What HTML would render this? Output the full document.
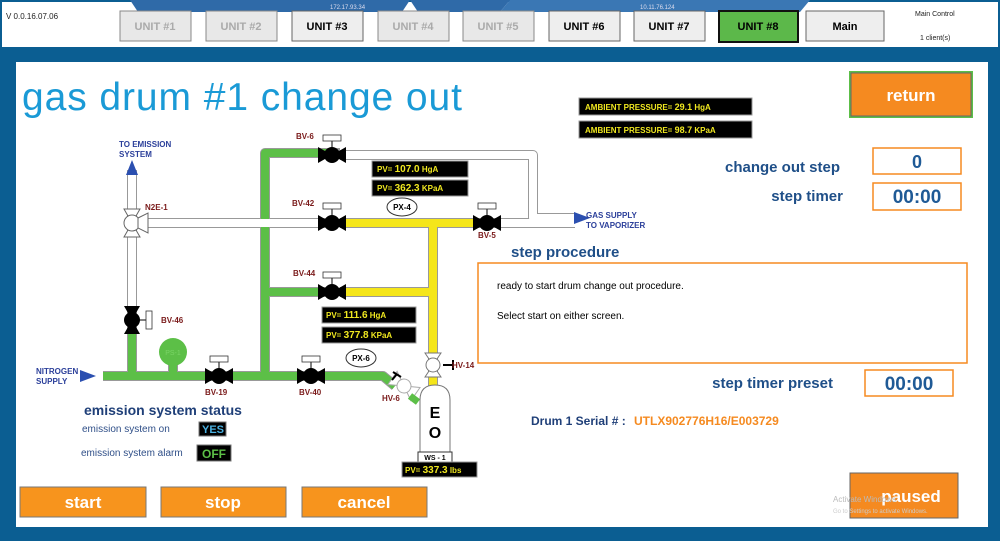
<!DOCTYPE html>
<html><head><meta charset="utf-8"><style>
html,body{margin:0;padding:0;width:1000px;height:541px;overflow:hidden;background:#0b5e92;font-family:"Liberation Sans",sans-serif}
</style></head><body>
<svg width="1000" height="541" xmlns="http://www.w3.org/2000/svg" font-family="Liberation Sans, sans-serif">
<rect x="0" y="0" width="1000" height="541" fill="#0b5e92"/>
<!-- top bar -->
<rect x="2" y="2" width="996" height="45" fill="#fff"/>
<path d="M130 0 H410 L402 12 H138 Z" fill="#2f6aa8"/>
<path d="M410 0 H510 L500 12 H418 Z" fill="#2f6aa8"/>
<path d="M510 0 H810 L800 12 H500 Z" fill="#3a77b4"/>
<text x="330" y="9" font-size="6" fill="#dde">172.17.93.34</text>
<text x="640" y="9" font-size="6" fill="#dde">10.11.76.124</text>
<text x="6" y="19" font-size="8" fill="#222">V 0.0.16.07.06</text>
<g font-size="11" font-weight="bold" text-anchor="middle">
<rect x="120" y="11" width="71" height="30" fill="#e8e8e8" stroke="#888"/><text x="155" y="30" fill="#aaa">UNIT #1</text>
<rect x="206" y="11" width="71" height="30" fill="#e8e8e8" stroke="#888"/><text x="241" y="30" fill="#aaa">UNIT #2</text>
<rect x="292" y="11" width="71" height="30" fill="#eee" stroke="#666"/><text x="327" y="30" fill="#000">UNIT #3</text>
<rect x="378" y="11" width="71" height="30" fill="#e8e8e8" stroke="#888"/><text x="413" y="30" fill="#aaa">UNIT #4</text>
<rect x="463" y="11" width="71" height="30" fill="#e8e8e8" stroke="#888"/><text x="498" y="30" fill="#aaa">UNIT #5</text>
<rect x="549" y="11" width="71" height="30" fill="#eee" stroke="#666"/><text x="584" y="30" fill="#000">UNIT #6</text>
<rect x="634" y="11" width="71" height="30" fill="#eee" stroke="#666"/><text x="669" y="30" fill="#000">UNIT #7</text>
<rect x="719" y="11" width="79" height="31" fill="#5cb84a" stroke="#111" stroke-width="2"/><text x="758" y="30" fill="#000">UNIT #8</text>
<rect x="806" y="11" width="78" height="30" fill="#eee" stroke="#666"/><text x="845" y="30" fill="#000">Main</text>
</g>
<text x="915" y="16" font-size="7" fill="#222">Main Control</text>
<text x="920" y="40" font-size="7" fill="#222">1  client(s)</text>
<!-- main panel -->
<rect x="16" y="62" width="972" height="465" fill="#fff"/>
<text x="22" y="110" font-size="39" fill="#1a9ad6" textLength="440" lengthAdjust="spacing">gas drum #1 change out</text>

<!-- pipes: outline -->
<g fill="none" stroke="#999" stroke-width="10" stroke-linejoin="round">
<path d="M103 376 H383 L395 386"/>
<path d="M132 376 V170"/>
<path d="M265 376 V153 H340"/>
<path d="M265 292 H330"/>
<path d="M340 155 H533 V218 H575"/>
<path d="M140 223 H330"/>
<path d="M340 223 H575"/>
<path d="M340 292 H433"/>
<path d="M433 223 V390"/>
<path d="M173 376 V360"/>
</g>
<g fill="none" stroke-width="8" stroke-linejoin="round">
<path d="M103 376 H383 L395 386" stroke="#5cbf47"/>
<path d="M132 376 V320" stroke="#5cbf47"/>
<path d="M132 320 V170" stroke="#fff"/>
<path d="M265 376 V153 H330" stroke="#5cbf47"/>
<path d="M265 292 H330" stroke="#5cbf47"/>
<path d="M340 155 H533 V218 H575" stroke="#fff"/>
<path d="M140 223 H330" stroke="#fff"/>
<path d="M340 223 H487" stroke="#f5e61a"/>
<path d="M487 223 H575" stroke="#fff"/>
<path d="M340 292 H433" stroke="#f5e61a"/>
<path d="M433 223 V360" stroke="#f5e61a"/>
<path d="M433 370 V390" stroke="#f5e61a"/>
<path d="M173 376 V360" stroke="#5cbf47"/>
</g>
<!-- arrows -->
<polygon points="80,370 96,376 80,382" fill="#2b4fb0"/>
<polygon points="126,175 132,160 138,175" fill="#2b4fb0"/>
<polygon points="574,212 590,218 574,224" fill="#2b4fb0"/>
<g font-size="8" font-weight="bold" fill="#2b3f9a">
<text x="36" y="374">NITROGEN</text><text x="36" y="384">SUPPLY</text>
<text x="119" y="147">TO EMISSION</text><text x="119" y="157">SYSTEM</text>
<text x="586" y="218">GAS SUPPLY</text><text x="586" y="228">TO VAPORIZER</text>
</g>
<!-- valves -->
<g fill="#000">
<g transform="translate(332,155)"><polygon points="-14,-8 0,0 -14,8"/><polygon points="14,-8 0,0 14,8"/><circle r="8"/><line y1="0" y2="-14" stroke="#000"/><rect x="-9" y="-20" width="18" height="6" fill="#fff" stroke="#333" stroke-width="0.8"/></g>
<g transform="translate(332,223)"><polygon points="-14,-8 0,0 -14,8"/><polygon points="14,-8 0,0 14,8"/><circle r="8"/><line y1="0" y2="-14" stroke="#000"/><rect x="-9" y="-20" width="18" height="6" fill="#fff" stroke="#333" stroke-width="0.8"/></g>
<g transform="translate(332,292)"><polygon points="-14,-8 0,0 -14,8"/><polygon points="14,-8 0,0 14,8"/><circle r="8"/><line y1="0" y2="-14" stroke="#000"/><rect x="-9" y="-20" width="18" height="6" fill="#fff" stroke="#333" stroke-width="0.8"/></g>
<g transform="translate(487,223)"><polygon points="-14,-8 0,0 -14,8"/><polygon points="14,-8 0,0 14,8"/><circle r="8"/><line y1="0" y2="-14" stroke="#000"/><rect x="-9" y="-20" width="18" height="6" fill="#fff" stroke="#333" stroke-width="0.8"/></g>
<g transform="translate(219,376)"><polygon points="-14,-8 0,0 -14,8"/><polygon points="14,-8 0,0 14,8"/><circle r="8"/><line y1="0" y2="-14" stroke="#000"/><rect x="-9" y="-20" width="18" height="6" fill="#fff" stroke="#333" stroke-width="0.8"/></g>
<g transform="translate(311,376)"><polygon points="-14,-8 0,0 -14,8"/><polygon points="14,-8 0,0 14,8"/><circle r="8"/><line y1="0" y2="-14" stroke="#000"/><rect x="-9" y="-20" width="18" height="6" fill="#fff" stroke="#333" stroke-width="0.8"/></g>
<g transform="translate(132,320)"><polygon points="-8,-14 0,0 8,-14"/><polygon points="-8,14 0,0 8,14"/><circle r="8"/><line x1="0" x2="14" stroke="#000"/><rect x="14" y="-9" width="6" height="18" fill="#fff" stroke="#333" stroke-width="0.8"/></g>
</g>
<!-- N2E-1 -->
<g transform="translate(132,223)" fill="#fff" stroke="#666" stroke-width="1">
<polygon points="-8,-14 0,0 8,-14"/><polygon points="-8,14 0,0 8,14"/><circle r="8"/><polygon points="6,-5 16,-10 16,10 6,5"/>
</g>
<!-- HV-14 -->
<g transform="translate(433,365)" fill="#fff" stroke="#777">
<polygon points="-8,-12 0,0 8,-12"/><polygon points="-8,12 0,0 8,12"/><circle r="7"/>
<line x1="10" y1="0" x2="20" y2="0" stroke="#000" stroke-width="2"/><line x1="20" y1="-5" x2="20" y2="5" stroke="#000" stroke-width="2"/>
</g>
<!-- HV-6 -->
<g transform="translate(404,386) rotate(35)" fill="#fff" stroke="#aaa">
<polygon points="-14,-8 0,0 -14,8"/><polygon points="14,-8 0,0 14,8"/><circle r="7"/>
</g>
<line x1="410" y1="396" x2="418" y2="402" stroke="#5cbf47" stroke-width="7"/>
<line x1="397" y1="374" x2="392" y2="380" stroke="#000" stroke-width="2"/><line x1="393" y1="372" x2="401" y2="377" stroke="#000" stroke-width="2"/>
<!-- cylinder -->
<path d="M420 455 V400 Q420 385 435 385 Q450 385 450 400 V455 Z" fill="#fff" stroke="#777"/>
<text x="435" y="418" font-size="16" font-weight="bold" text-anchor="middle">E</text>
<text x="435" y="438" font-size="16" font-weight="bold" text-anchor="middle">O</text>
<rect x="418" y="452" width="34" height="10" fill="#fff" stroke="#333"/>
<text x="435" y="460" font-size="7" font-weight="bold" text-anchor="middle">WS - 1</text>
<!-- gauges -->
<circle cx="173" cy="352" r="14" fill="#5cbf47"/><text x="173" y="355" font-size="7" fill="#7ad466" text-anchor="middle">PS-1</text>
<ellipse cx="402" cy="207" rx="15" ry="9" fill="#fff" stroke="#333"/><text x="402" y="210" font-size="8" font-weight="bold" text-anchor="middle">PX-4</text>
<ellipse cx="361" cy="358" rx="15" ry="9" fill="#fff" stroke="#333"/><text x="361" y="361" font-size="8" font-weight="bold" text-anchor="middle">PX-6</text>
<!-- labels -->
<g font-size="8" font-weight="bold" fill="#7a1a1a">
<text x="296" y="139">BV-6</text><text x="292" y="206">BV-42</text><text x="293" y="276">BV-44</text>
<text x="478" y="238">BV-5</text><text x="205" y="395">BV-19</text><text x="299" y="395">BV-40</text>
<text x="161" y="323">BV-46</text><text x="145" y="210">N2E-1</text><text x="452" y="368">HV-14</text><text x="382" y="401">HV-6</text>
</g>
<!-- PV boxes -->
<g font-size="8" font-weight="bold" fill="#f0e820">
<rect x="372" y="161" width="96" height="16" fill="#000" stroke="#999"/><text x="377" y="172">PV=  <tspan font-size="10">107.0</tspan>     HgA</text>
<rect x="372" y="180" width="96" height="16" fill="#000" stroke="#999"/><text x="377" y="191">PV=  <tspan font-size="10">362.3</tspan>     KPaA</text>
<rect x="322" y="307" width="94" height="16" fill="#000" stroke="#999"/><text x="326" y="318">PV=  <tspan font-size="10">111.6</tspan>      HgA</text>
<rect x="322" y="327" width="94" height="16" fill="#000" stroke="#999"/><text x="326" y="338">PV=  <tspan font-size="10">377.8</tspan>      KPaA</text>
<rect x="402" y="462" width="75" height="15" fill="#000" stroke="#999"/><text x="405" y="473">PV=  <tspan font-size="10">337.3</tspan>     lbs</text>
<rect x="579" y="98" width="173" height="17" fill="#000" stroke="#999"/><text x="585" y="110">AMBIENT PRESSURE=     <tspan font-size="9">29.1</tspan>           HgA</text>
<rect x="579" y="121" width="173" height="17" fill="#000" stroke="#999"/><text x="585" y="133">AMBIENT PRESSURE=     <tspan font-size="9">98.7</tspan>           KPaA</text>
</g>
<!-- emission status -->
<text x="84" y="415" font-size="14" font-weight="bold" fill="#1f3f78">emission system status</text>
<text x="82" y="432" font-size="10" fill="#2f4f88">emission system on</text>
<text x="81" y="456" font-size="10" fill="#2f4f88">emission system alarm</text>
<rect x="199" y="422" width="27" height="14" fill="#000" stroke="#777"/><text x="213" y="433" font-size="11" font-weight="bold" fill="#4ab0e0" text-anchor="middle">YES</text>
<rect x="197" y="445" width="34" height="16" fill="#000" stroke="#777"/><text x="214" y="458" font-size="12" font-weight="bold" fill="#5cbf47" text-anchor="middle">OFF</text>
<!-- right -->
<rect x="849" y="71" width="124" height="47" fill="#5cbf47"/><rect x="851" y="73" width="120" height="43" fill="#f58a20" stroke="#666"/>
<text x="911" y="101" font-size="17" font-weight="bold" fill="#fff" text-anchor="middle">return</text>
<g font-weight="bold" fill="#1f4f88" font-size="15" text-anchor="end">
<text x="840" y="172">change out step</text>
<text x="843" y="201">step timer</text>
<text x="833" y="388">step timer preset</text>
</g>
<rect x="873" y="148" width="88" height="26" fill="#fff" stroke="#f58a20" stroke-width="1.5"/><text x="917" y="168" font-size="18" font-weight="bold" fill="#1f5a96" text-anchor="middle">0</text>
<rect x="873" y="183" width="88" height="27" fill="#fff" stroke="#f58a20" stroke-width="1.5"/><text x="917" y="203" font-size="19" font-weight="bold" fill="#1f5a96" text-anchor="middle">00:00</text>
<rect x="865" y="370" width="88" height="26" fill="#fff" stroke="#f58a20" stroke-width="1.5"/><text x="909" y="390" font-size="19" font-weight="bold" fill="#1f5a96" text-anchor="middle">00:00</text>
<text x="511" y="257" font-size="15" font-weight="bold" fill="#1f4f88">step procedure</text>
<rect x="478" y="263" width="489" height="100" fill="#fff" stroke="#f58a20" stroke-width="1.5"/>
<text x="497" y="289" font-size="10" fill="#000">ready to start drum change out procedure.</text>
<text x="497" y="319" font-size="10" fill="#000">Select start on either screen.</text>
<text x="531" y="425" font-size="12" font-weight="bold" fill="#1f3f78">Drum 1 Serial # :</text>
<text x="634" y="425" font-size="12" font-weight="bold" fill="#f58a20">UTLX902776H16/E003729</text>
<!-- buttons -->
<g font-size="17" font-weight="bold" fill="#fff" text-anchor="middle">
<rect x="20" y="487" width="126" height="30" fill="#f7941d" stroke="#777"/><text x="83" y="508">start</text>
<rect x="161" y="487" width="125" height="30" fill="#f7941d" stroke="#777"/><text x="223" y="508">stop</text>
<rect x="302" y="487" width="125" height="30" fill="#f7941d" stroke="#777"/><text x="364" y="508">cancel</text>
<rect x="850" y="473" width="108" height="45" fill="#f58a20" stroke="#666"/><text x="911" y="502">paused</text>
</g>
<text x="833" y="502" font-size="8" fill="#bbb">Activate Windows</text>
<text x="833" y="513" font-size="6" fill="#ccc">Go to Settings to activate Windows.</text>
</svg>
</body></html>
